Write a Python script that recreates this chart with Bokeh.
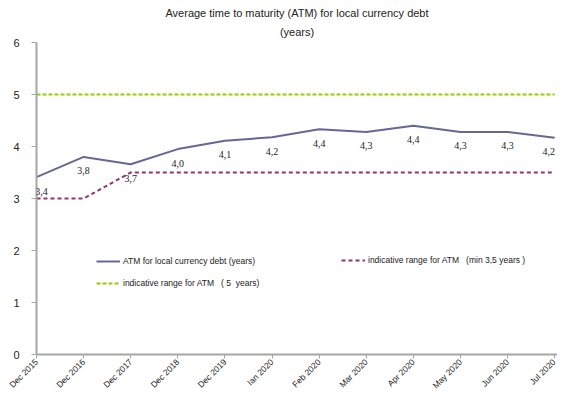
from bokeh.plotting import figure
from bokeh.models import (Range1d, FixedTicker, Legend, LegendItem, ColumnDataSource, LabelSet, Title)
from bokeh.embed import file_html
from bokeh.resources import INLINE
import math

categories = ["Dec 2015", "Dec 2016", "Dec 2017", "Dec 2018", "Dec 2019", "Ian 2020",
              "Feb 2020", "Mar 2020", "Apr 2020", "May 2020", "Jun 2020", "Jul 2020"]
atm = [3.41, 3.80, 3.66, 3.95, 4.11, 4.18, 4.33, 4.28, 4.40, 4.28, 4.28, 4.17]
atm_labels = ["3,4", "3,8", "3,7", "4,0", "4,1", "4,2", "4,4", "4,3", "4,4", "4,3", "4,3", "4,2"]
min_range = [3.0, 3.0, 3.5, 3.5, 3.5, 3.5, 3.5, 3.5, 3.5, 3.5, 3.5, 3.5]
target = [5.0] * 12

FONT = "Liberation Sans"
xs = list(range(len(categories)))

p = figure(width=557, height=396, output_backend="svg", toolbar_location=None,
           x_range=Range1d(0, 11.06), y_range=Range1d(0, 6),
           min_border_left=36, min_border_right=0, min_border_top=42, min_border_bottom=10,
           title=None)
p.outline_line_color = None
p.xgrid.visible = False
p.ygrid.visible = False

t2 = Title(text="(years)", align="center", text_font=FONT, text_font_size="11px",
           text_font_style="normal", text_color="#222222", standoff=10)
t1 = Title(text="Average time to maturity (ATM) for local currency debt", align="center",
           text_font=FONT, text_font_size="11px", text_font_style="normal",
           text_color="#222222", standoff=0)
p.add_layout(t2, "above")
p.add_layout(t1, "above")

l_atm = p.line(xs, atm, line_color="#666699", line_width=2)
l_min = p.line(xs, min_range, line_color="#993366", line_width=2, line_dash="4 3")
l_tgt = p.line(xs, target, line_color="#99CC00", line_width=2, line_dash="4 2")

label_dx = [5] + [0] * 10 + [-6]
src = ColumnDataSource(dict(x=xs, y=atm, t=atm_labels, dx=label_dx))
labels = LabelSet(x="x", y="y", text="t", source=src, text_align="center",
                  text_baseline="middle", y_offset=-14, x_offset="dx", text_font=FONT,
                  text_font_size="10px", text_color="#222222")
p.add_layout(labels)

# axes
p.xaxis.ticker = FixedTicker(ticks=xs)
p.xaxis.major_label_overrides = {i: c for i, c in enumerate(categories)}
p.xaxis.major_label_orientation = math.pi / 4
p.xaxis.major_label_text_font = FONT
p.xaxis.major_label_text_font_size = "8.5px"
p.xaxis.major_label_text_color = "#222222"
p.xaxis.major_label_standoff = 2
p.xaxis.minor_tick_line_color = None
p.xaxis.major_tick_in = 0
p.xaxis.major_tick_out = 4
p.xaxis.axis_line_color = "#A6A6A6"
p.xaxis.major_tick_line_color = "#A6A6A6"
p.xaxis.axis_line_width = 2

p.yaxis.ticker = FixedTicker(ticks=[0, 1, 2, 3, 4, 5, 6])
p.yaxis.major_label_text_font = FONT
p.yaxis.major_label_text_font_size = "11px"
p.yaxis.major_label_text_color = "#222222"
p.yaxis.major_label_standoff = 12
p.yaxis.minor_tick_line_color = None
p.yaxis.major_tick_in = 0
p.yaxis.major_tick_out = 5
p.yaxis.axis_line_color = "#A6A6A6"
p.yaxis.major_tick_line_color = "#A6A6A6"
p.yaxis.axis_line_width = 2

common = dict(border_line_color=None, background_fill_alpha=0, padding=0, margin=0,
              glyph_width=24, glyph_height=10, label_height=10, label_standoff=3,
              spacing=12, label_text_font=FONT, label_text_font_size="8.5px",
              label_text_color="#222222")
leg1 = Legend(items=[LegendItem(label="ATM for local currency debt (years)", renderers=[l_atm]),
                     LegendItem(label="indicative range for ATM   ( 5  years)", renderers=[l_tgt])],
              location=(60, 66), **common)
leg2 = Legend(items=[LegendItem(label="indicative range for ATM   (min 3,5 years )", renderers=[l_min])],
              location=(305, 89), **common)
p.add_layout(leg1)
p.add_layout(leg2)

open("out.html", "w").write(file_html(p, INLINE))
